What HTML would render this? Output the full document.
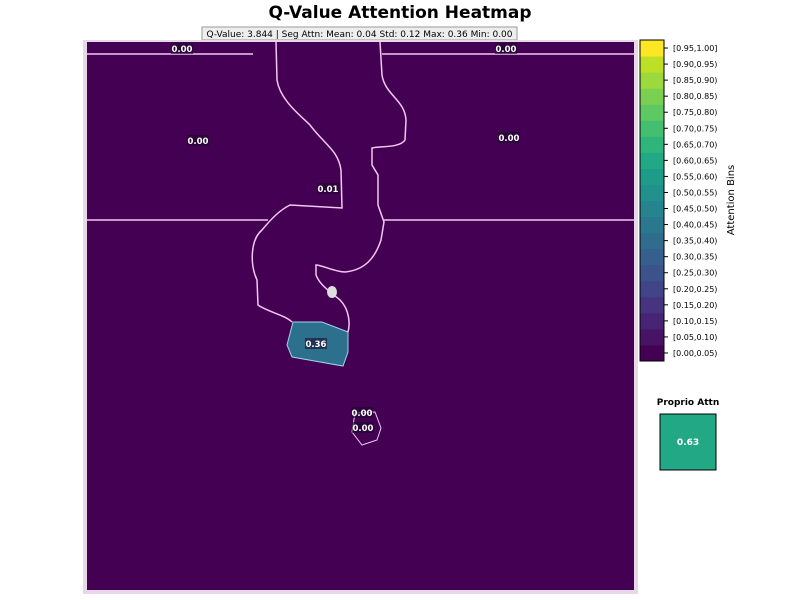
<!DOCTYPE html>
<html><head><meta charset="utf-8"><style>
body{margin:0;background:#fff;font-family:"Liberation Sans","DejaVu Sans",sans-serif}
svg{display:block}
</style></head><body>
<svg id="c" width="800" height="600" xmlns="http://www.w3.org/2000/svg">
<text x="400" y="18" text-anchor="middle" font-size="17" font-weight="bold" font-family="DejaVu Sans, sans-serif">Q-Value Attention Heatmap</text>
<rect x="202" y="27" width="315" height="13" fill="#eee" stroke="#999" stroke-width="1"/>
<text x="359.5" y="37" text-anchor="middle" font-size="9" font-family="DejaVu Sans, sans-serif">Q-Value: 3.844  |  Seg Attn: Mean: 0.04 Std: 0.12 Max: 0.36 Min: 0.00</text>
<rect x="83" y="40" width="555" height="554" fill="#e6d8e6"/>
<rect x="87" y="42" width="547" height="548" fill="#440154"/>
<g fill="none" stroke="#f2c8f2" stroke-width="1.5">
<path d="M87,54 H253 M382,54 H634 M87,220 H268 M384,220 H634"/>
<path d="M276,42 L277,80 C280,100 300,115 310,125 C325,145 338,150 341,170 L342,208 L290,205 C280,210 272,218 262,230 C250,240 250,265 257,280 L258,305 C268,312 285,315 292,322"/>
<path d="M380,42 L382,75 C385,95 405,100 406,120 L405,140 C400,148 380,146 372,148 L372,165 L378,175 L378,205 L384,222 L381,240 C375,258 365,270 345,272 C335,272 322,265 316,265 L316,275 C320,285 328,290 340,300 C350,310 350,325 348,332"/>
</g>
<path d="M293,322 L322,322 L348,332 L348,352 L343,366 L292,357 L287,345 Z" fill="#2d708e" stroke="#9fd3e8" stroke-width="1"/>
<ellipse cx="332" cy="292" rx="5" ry="6" fill="#ddd"/>
<path d="M355,413 L375,412 L381,428 L377,440 L362,445 L352,432 Z" fill="none" stroke="#f2c8f2" stroke-width="1"/>
<g id="seglabels"></g>
<g id="cbar"></g>
<text transform="translate(734,200) rotate(-90)" text-anchor="middle" font-size="10" font-family="DejaVu Sans, sans-serif">Attention Bins</text>
<text x="688" y="405" text-anchor="middle" font-size="9" font-weight="bold" font-family="DejaVu Sans, sans-serif">Proprio Attn</text>
<rect id="prop" x="660" y="414" width="56" height="56" stroke="#000" stroke-width="1"/>
<text id="propt" x="688" y="445" text-anchor="middle" font-size="9" font-weight="bold" fill="#fff" font-family="DejaVu Sans, sans-serif"></text>
</svg>
<script>
const binLabels=["[0.00,0.05)","[0.05,0.10)","[0.10,0.15)","[0.15,0.20)","[0.20,0.25)","[0.25,0.30)","[0.30,0.35)","[0.35,0.40)","[0.40,0.45)","[0.45,0.50)","[0.50,0.55)","[0.55,0.60)","[0.60,0.65)","[0.65,0.70)","[0.70,0.75)","[0.75,0.80)","[0.80,0.85)","[0.85,0.90)","[0.90,0.95)","[0.95,1.00]"];
const binColors=["#440154","#471365","#482475","#463480","#414487","#3b528b","#355f8d","#2f6c8e","#2a788e","#25848e","#21918c","#1e9c89","#22a884","#2fb47c","#44bf70","#5ec962","#7ad151","#9bd93c","#bddf26","#fde725"];
const segValues=[0.00,0.00,0.00,0.00,0.01,0.36,0.00,0.00];
const segX=[182,506,198,509,328,316,362,363];
const segY=[49,49,141,138,189,344,413,428];
const proprioValue=0.63;
const NS="http://www.w3.org/2000/svg";
function mk(t,a,p){const e=document.createElementNS(NS,t);for(const k in a)e.setAttribute(k,a[k]);p.appendChild(e);return e;}
const cb=document.getElementById('cbar');
const cbTop=40,cbBot=361,n=binLabels.length,bh=(cbBot-cbTop)/n;
function binY(i){return cbBot-(i+1)*bh;}
binLabels.forEach((l,i)=>{
  const r=mk('rect',{x:640,y:binY(i),width:24,height:bh+0.5,fill:binColors[i]},cb);
  
  
  const tk=mk('line',{x1:664,x2:668,y1:binY(i)+bh/2,y2:binY(i)+bh/2,stroke:'#000'},cb);
  
  
  const t=mk('text',{x:673,y:binY(i)+bh/2+3,'font-size':8,'font-family':'DejaVu Sans, sans-serif'},cb);
  t.textContent=l;
  
  
});
const ob=mk('rect',{x:640,y:cbTop,width:24,height:cbBot-cbTop,fill:'none',stroke:'#000'},cb);


function colorFor(v){return binColors[Math.min(n-1,Math.floor(v/0.05))];}
const sg=document.getElementById('seglabels');
segValues.forEach((v,i)=>{
  const s=v.toFixed(2);
  const bg=mk('rect',{x:segX[i]-11,y:segY[i]-6,width:22,height:11,fill:'#1a0a2a',opacity:0.6},sg);
  
  
  const t=mk('text',{x:segX[i],y:segY[i]+3,'text-anchor':'middle','font-size':8.5,'font-weight':'bold',fill:'#fff','font-family':'DejaVu Sans, sans-serif'},sg);
  t.textContent=s;
  
  
});
document.getElementById('prop').setAttribute('fill',colorFor(proprioValue));
document.getElementById('propt').textContent=proprioValue.toFixed(2);
</script>
</body></html>
